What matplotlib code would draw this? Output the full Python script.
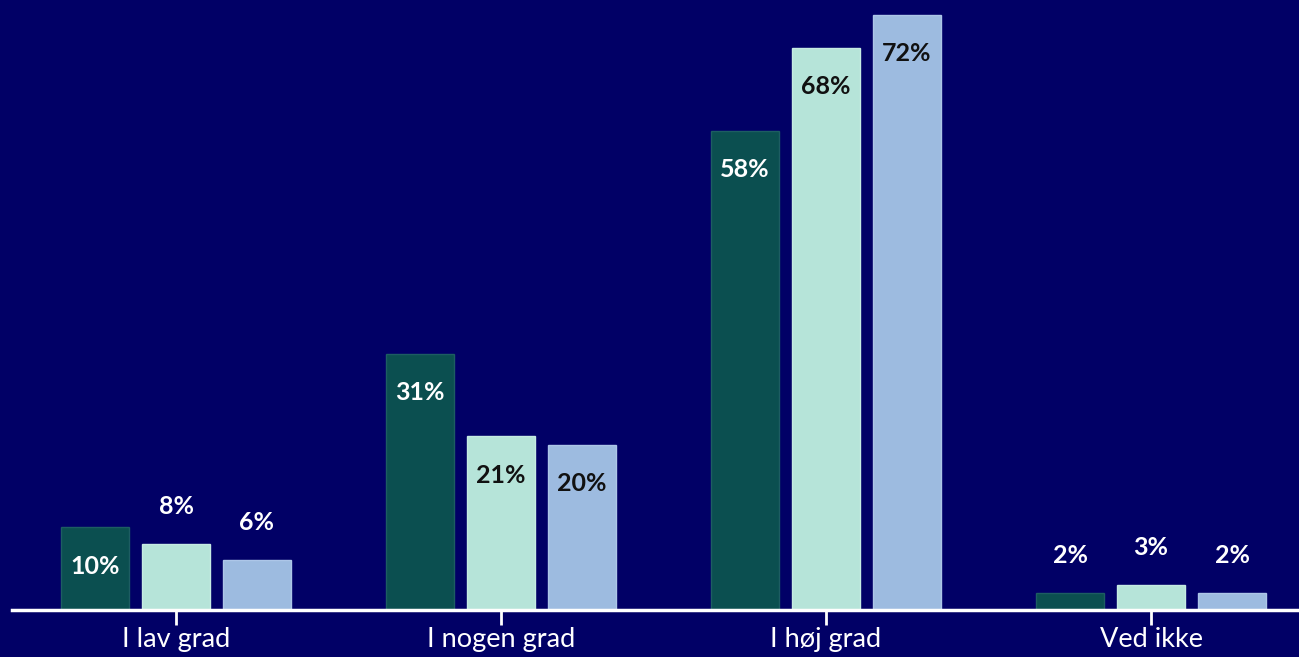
import numpy as np
import matplotlib.pyplot as plt

# data
categories = ["I lav grad", "I nogen grad", "I høj grad", "Ved ikke"]
series_a = [10, 31, 58, 2]
series_b = [8, 21, 68, 3]
series_c = [6, 20, 72, 2]

bg = "#010066"
colors = ["#0b4f50", "#b6e4d9", "#9dbbe0"]
edges = ["#1d5d62", "#c6ebe3", "#adc6e8"]
label_colors = ["white", "#111111", "#111111"]

plt.rcParams['font.family'] = ['Lato', 'DejaVu Sans']

fig = plt.figure(figsize=(12.99, 6.57), dpi=100, facecolor=bg)
ax = fig.add_axes([12 / 1299, 47 / 657, 1 - 12 / 1299, 610 / 657])
ax.set_facecolor(bg)

x = np.arange(len(categories))
offset = 81 / 325
width = 68 / 325
all_series = [series_a, series_b, series_c]

for i, vals in enumerate(all_series):
    xs = x + (i - 1) * offset
    ax.bar(xs, vals, width=width, color=colors[i], edgecolor=edges[i], linewidth=1)
    for xv, v in zip(xs, vals):
        if v >= 10:
            ax.annotate(f"{v}%", (xv, v), xytext=(0, -28), textcoords="offset points",
                        ha="center", va="center", fontsize=18, fontweight="bold",
                        color=label_colors[i])
        else:
            ax.annotate(f"{v}%", (xv, v), xytext=(0, 27), textcoords="offset points",
                        ha="center", va="center", fontsize=18, fontweight="bold",
                        color="white")

ax.set_xlim(-164 / 325, 1123 / 325)
ax.set_ylim(0, 72 * 610 / 595)
ax.set_xticks(x)
ax.set_xticklabels(categories, fontsize=19.5, color="white")
ax.tick_params(axis="x", length=11, width=2, color="white", pad=1)
ax.set_yticks([])
for s in ["top", "right", "left"]:
    ax.spines[s].set_visible(False)
ax.spines["bottom"].set_color("white")
ax.spines["bottom"].set_linewidth(2.5)

fig.savefig("out.png", dpi=100, facecolor=bg)
